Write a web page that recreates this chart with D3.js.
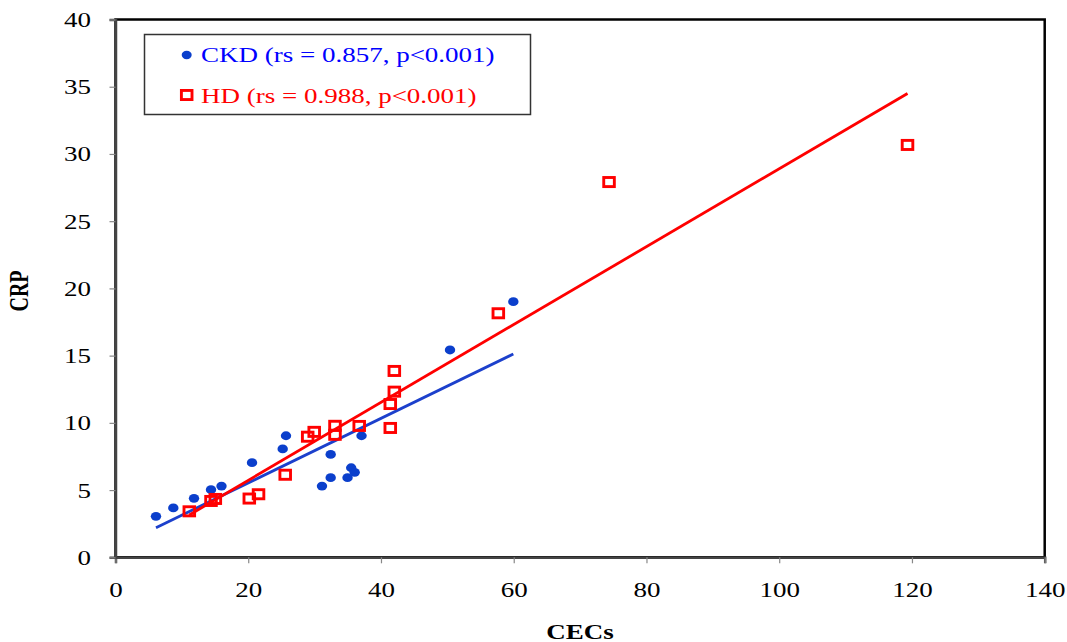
<!DOCTYPE html>
<html><head><meta charset="utf-8">
<script src="https://cdn.jsdelivr.net/npm/d3@7"></script>
<style>
html,body{margin:0;padding:0;background:#fff;}
svg text{font-family:"Liberation Serif","Times New Roman",serif;}
</style></head>
<body><svg id="c" width="1067" height="642"></svg>
<script>
// ---- data ----
const ckdX = [6.10, 8.71, 11.83, 14.39, 15.97, 20.57, 25.19, 25.69, 31.11, 32.42, 32.42, 34.96, 35.51, 36.04, 37.07, 50.40, 59.94];
const ckdY = [3.05, 3.67, 4.39, 5.03, 5.30, 7.04, 8.06, 9.04, 5.30, 5.92, 7.65, 5.92, 6.66, 6.32, 9.04, 15.42, 19.01];
const hdX = [11.12, 14.39, 15.04, 20.16, 21.55, 25.57, 28.96, 29.94, 33.07, 33.07, 36.72, 41.40, 41.40, 42.01, 42.01, 57.68, 74.36, 119.33];
const hdY = [3.42, 4.19, 4.34, 4.37, 4.69, 6.14, 8.97, 9.33, 9.78, 9.11, 9.77, 11.40, 9.62, 12.32, 13.86, 18.15, 27.91, 30.67];
// linear trend lines: [intercept, slope]
const ckdFit = [0.736, 0.240];
const hdFit = [-0.07, 0.2897];
const xTicks = [0, 20, 40, 60, 80, 100, 120, 140];
const yTicks = [0, 5, 10, 15, 20, 25, 30, 35, 40];
const legendLabels = ["CKD (rs = 0.857, p<0.001)", "HD (rs = 0.988, p<0.001)"];
const xTitle = "CECs", yTitle = "CRP";

// ---- layout ----
const L = 115.5, R = 1044.7, T = 19.5, B = 557.3;
const SX = 1.35; // horizontal text stretch of the original
const blue = "#0b3fcc", blueLine = "#1c40cc", red = "#ff0000";

const svg = d3.select("#c");
const x = d3.scaleLinear().domain([0, 140]).range([L, R]);
const y = d3.scaleLinear().domain([0, 40]).range([B, T]);

// frame (top/right)
svg.append("rect").attr("x", L).attr("y", T).attr("width", R - L).attr("height", B - T)
  .attr("fill", "none").attr("stroke", "#000").attr("stroke-width", 2.5);

// axes
const gx = svg.append("g").attr("transform", `translate(0,${B})`)
  .call(d3.axisBottom(x).tickValues(xTicks).tickSize(6).tickFormat(d3.format("d")));
const gy = svg.append("g").attr("transform", `translate(${L},0)`)
  .call(d3.axisLeft(y).tickValues(yTicks).tickSize(6).tickFormat(d3.format("d")));
[gx, gy].forEach(g => {
  g.select(".domain").attr("stroke", "#444").attr("stroke-width", 2.5);
  g.selectAll(".tick line").attr("stroke", "#888").attr("stroke-width", 1.2);
  g.selectAll(".tick text").attr("fill", "#000").style("font-size", "20px")
    .style("font-family", '"Liberation Serif","Times New Roman",serif');
});
gx.selectAll(".tick text").attr("y", null).attr("dy", null)
  .attr("text-anchor", "middle").attr("transform", `translate(0,40) scale(${SX},1)`);
gy.selectAll(".tick text").attr("x", null).attr("dy", null)
  .attr("text-anchor", "end").attr("transform", `translate(-24.5,7) scale(${SX},1)`);

// axis titles
svg.append("text").attr("transform", `translate(${(L + R) / 2},639) scale(${SX},1)`)
  .attr("text-anchor", "middle").style("font-size", "20px").style("font-weight", "bold").text(xTitle);
svg.append("text").attr("transform", `translate(28,291) scale(${SX},1) rotate(-90)`)
  .attr("text-anchor", "middle").style("font-size", "20px").style("font-weight", "bold").text(yTitle);

// trend lines
function fitLine(xs, fit, color) {
  const x0 = d3.min(xs), x1 = d3.max(xs);
  svg.append("line").attr("x1", x(x0)).attr("y1", y(fit[0] + fit[1] * x0))
    .attr("x2", x(x1)).attr("y2", y(fit[0] + fit[1] * x1))
    .attr("stroke", color).attr("stroke-width", 2.8);
}

// CKD points
svg.append("g").selectAll("ellipse").data(ckdX).join("ellipse")
  .attr("cx", (d) => x(d)).attr("cy", (d, i) => y(ckdY[i]))
  .attr("rx", 5.2).attr("ry", 4.4).attr("fill", blue);

fitLine(ckdX, ckdFit, blueLine);
fitLine(hdX, hdFit, red);

// HD points
const sw = 13.5, sh = 12, st = 2.9;
svg.append("g").selectAll("rect").data(hdX).join("rect")
  .attr("x", (d) => x(d) - (sw - st) / 2).attr("y", (d, i) => y(hdY[i]) - (sh - st) / 2)
  .attr("width", sw - st).attr("height", sh - st)
  .attr("fill", "none").attr("stroke", red).attr("stroke-width", st);

// legend
const lg = svg.append("g");
lg.append("rect").attr("x", 144.5).attr("y", 34.5).attr("width", 386).attr("height", 80)
  .attr("fill", "#fff").attr("stroke", "#333").attr("stroke-width", 1.5);
lg.append("ellipse").attr("cx", 186.7).attr("cy", 55).attr("rx", 5).attr("ry", 4.2).attr("fill", blue);
lg.append("rect").attr("x", 186.7 - (sw - st) / 2).attr("y", 95 - (sh - st) / 2)
  .attr("width", sw - st).attr("height", sh - st).attr("fill", "none").attr("stroke", red).attr("stroke-width", st);
lg.append("text").attr("transform", `translate(201,62) scale(${SX},1)`).style("font-size", "20px")
  .attr("fill", "#0000ff").text(legendLabels[0]);
lg.append("text").attr("transform", `translate(201,103) scale(${SX},1)`).style("font-size", "20px")
  .attr("fill", "#ff0000").text(legendLabels[1]);
</script></body></html>
